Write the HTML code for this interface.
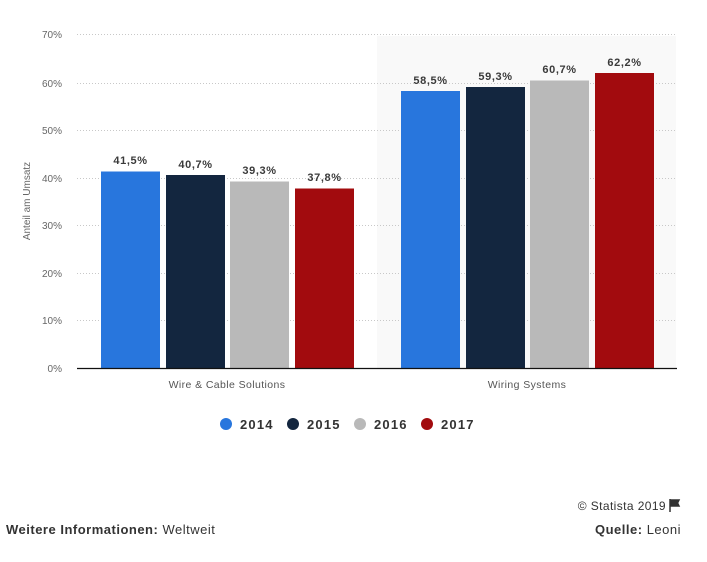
<!DOCTYPE html>
<html><head><meta charset="utf-8"><style>
html,body{margin:0;padding:0;background:#fff;}
body{width:707px;height:562px;overflow:hidden;position:relative;font-family:"Liberation Sans",sans-serif;}
svg{position:absolute;left:0;top:0;}
</style></head><body>
<svg width="707" height="562" viewBox="0 0 707 562" xmlns="http://www.w3.org/2000/svg">
<rect x="377" y="36" width="299" height="332" fill="#f9f9f9"/>
<g stroke="#c8c8c8" stroke-width="1" stroke-dasharray="1,2">
<line x1="77" x2="677" y1="34.5" y2="34.5"/>
<line x1="77" x2="677" y1="83.5" y2="83.5"/>
<line x1="77" x2="677" y1="130.5" y2="130.5"/>
<line x1="77" x2="677" y1="178.5" y2="178.5"/>
<line x1="77" x2="677" y1="225.5" y2="225.5"/>
<line x1="77" x2="677" y1="273.5" y2="273.5"/>
<line x1="77" x2="677" y1="320.5" y2="320.5"/>
</g>
<g font-size="10" fill="#666" text-anchor="end">
<text x="62" y="38">70%</text>
<text x="62" y="87">60%</text>
<text x="62" y="134">50%</text>
<text x="62" y="182">40%</text>
<text x="62" y="229">30%</text>
<text x="62" y="277">20%</text>
<text x="62" y="324">10%</text>
<text x="62" y="372">0%</text>
</g>
<text transform="translate(30,201) rotate(-90)" font-size="10" fill="#666" text-anchor="middle">Anteil am Umsatz</text>
<!-- bars group 1 -->
<rect x="101" y="171.5" width="59" height="197" fill="#2876dd"/>
<rect x="166" y="175" width="59" height="193.5" fill="#13263f"/>
<rect x="230" y="181.5" width="59" height="187" fill="#b9b9b9"/>
<rect x="295" y="188.5" width="59" height="180" fill="#a20b0e"/>
<!-- bars group 2 -->
<rect x="401" y="91" width="59" height="277.5" fill="#2876dd"/>
<rect x="466" y="87" width="59" height="281.5" fill="#13263f"/>
<rect x="530" y="80.5" width="59" height="288" fill="#b9b9b9"/>
<rect x="595" y="73" width="59" height="295.5" fill="#a20b0e"/>
<line x1="77" x2="677" y1="368.5" y2="368.5" stroke="#111" stroke-width="1.2"/>
<g font-size="11" font-weight="bold" fill="#3a3a3a" text-anchor="middle" letter-spacing="0.6">
<text x="130.5" y="164">41,5%</text>
<text x="195.5" y="168">40,7%</text>
<text x="259.5" y="174">39,3%</text>
<text x="324.5" y="181">37,8%</text>
<text x="430.5" y="84">58,5%</text>
<text x="495.5" y="80">59,3%</text>
<text x="559.5" y="73">60,7%</text>
<text x="624.5" y="66">62,2%</text>
</g>
<g font-size="10.5" fill="#555" text-anchor="middle" letter-spacing="0.4">
<text x="227" y="388">Wire &amp; Cable Solutions</text>
<text x="527" y="388">Wiring Systems</text>
</g>
<circle cx="226" cy="424" r="6" fill="#2876dd"/>
<circle cx="293" cy="424" r="6" fill="#13263f"/>
<circle cx="360" cy="424" r="6" fill="#b9b9b9"/>
<circle cx="427" cy="424" r="6" fill="#a20b0e"/>
<g font-size="13" font-weight="bold" fill="#333" letter-spacing="1.2">
<text x="240" y="429">2014</text>
<text x="307" y="429">2015</text>
<text x="374" y="429">2016</text>
<text x="441" y="429">2017</text>
</g>
<text x="666" y="510" font-size="12" fill="#333" text-anchor="end" letter-spacing="0.4">© Statista 2019</text>
<path d="M670 499 v13 M671 500 h8 l-1.5 3 l1.5 3 h-8 z" stroke="#333" stroke-width="1.5" fill="#333"/>
<text x="6" y="534" font-size="13" fill="#333" letter-spacing="0.5"><tspan font-weight="bold">Weitere Informationen:</tspan> Weltweit</text>
<text x="681" y="534" font-size="13" fill="#333" text-anchor="end" letter-spacing="0.5"><tspan font-weight="bold">Quelle:</tspan> Leoni</text>
</svg>
</body></html>
